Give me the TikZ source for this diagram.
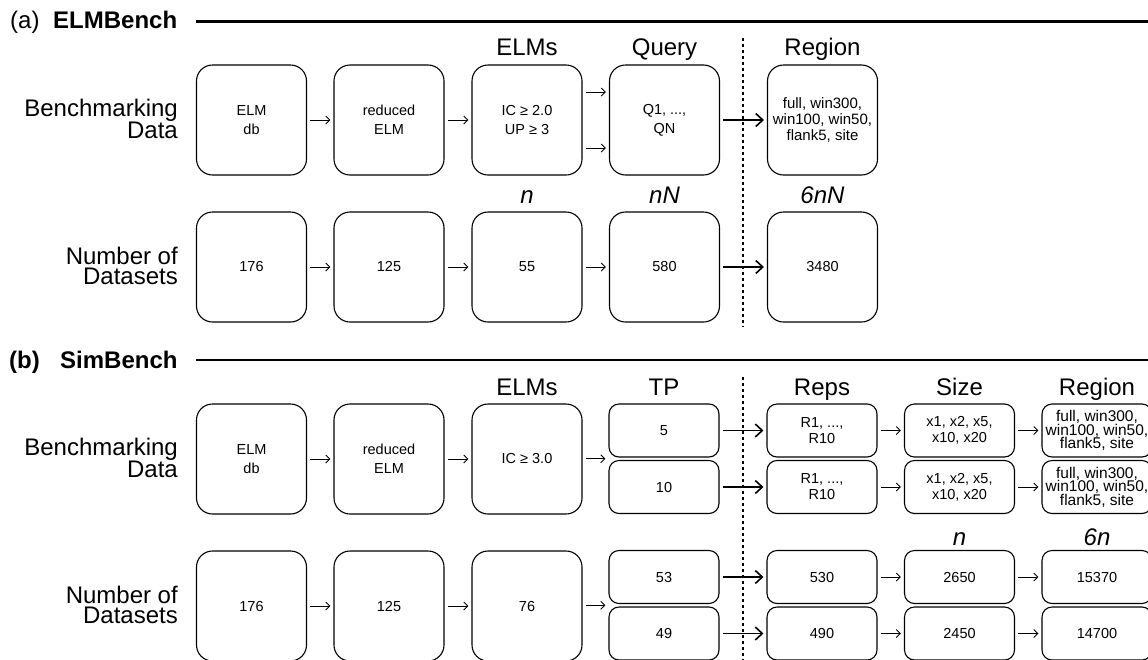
\documentclass[tikz,border=0pt]{standalone}
\usepackage{fontspec}
\setmainfont{Liberation Sans}
\usetikzlibrary{arrows.meta,calc}
\begin{document}
\begin{tikzpicture}[x=1pt,y=-1pt,
 box/.style={draw, line width=1.1pt, rounded corners=16pt, minimum width=110pt, minimum height=110pt, inner sep=0pt, align=center, font=\fontsize{14.5}{19}\selectfont},
 sbox/.style={draw, line width=1.1pt, rounded corners=10pt, minimum width=110pt, minimum height=53pt, inner sep=0pt, align=center, font=\fontsize{14.5}{16}\selectfont},
 regA/.style={font=\fontsize{15}{16}\selectfont},
 regB/.style={font=\fontsize{15.5}{13.5}\selectfont},
 hdr/.style={anchor=base, inner sep=0pt, font=\fontsize{24}{24}\selectfont},
 ilab/.style={anchor=base, inner sep=0pt, font=\fontsize{24}{24}\selectfont\itshape},
 rlab/.style={anchor=east, align=right, inner sep=0pt, font=\fontsize{24}{17}\selectfont},
 rlabn/.style={anchor=east, align=right, inner sep=0pt, font=\fontsize{24}{20}\selectfont},
 ttl/.style={anchor=base west, inner sep=0pt, font=\fontsize{24}{24}\selectfont},
 sarr/.style={-{Straight Barb[length=4pt,width=8pt]}, line width=1pt, shorten <=3pt, shorten >=3pt},
 larr/.style={-{Straight Barb[length=7pt,width=13pt]}, line width=1.6pt, shorten <=3pt, shorten >=3pt},
 sep/.style={line width=2.2pt},
 dots/.style={line width=1.8pt, dash pattern=on 3pt off 3pt}]
\useasboundingbox (0,0) rectangle (1148,659);

% ---------------- (a) ELMBench ----------------
\node[ttl] (ta) at (10,28) {(a)};
\node[ttl] (tan) at (53,28) {\bfseries ELMBench};
\coordinate (la1) at (196,21.5);
\coordinate (la2) at (1150,21.5);
\draw[sep] (la1) -- (la2);

\node[rlab] (ra1) at (178,119) {Benchmarking\\Data};
\node[rlabn] (ra2) at (178,266) {Number of\\Datasets};

\node[hdr] (ha3) at (527,55) {ELMs};
\node[hdr] (ha4) at (664.5,55) {Query};
\node[hdr] (ha5) at (822.5,55) {Region};

\node[box] (a1) at (251.5,120) {ELM\\db};
\node[box] (a2) at (389,120) {reduced\\ELM};
\node[box] (a3) at (527,120) {IC ≥ 2.0\\UP ≥ 3};
\node[box] (a4) at (664.5,120) {Q1, ...,\\QN};
\node[box,regA] (a5) at (822.5,120) {full, win300,\\win100, win50,\\flank5, site};

\node[ilab] (ia3) at (527,203) {n};
\node[ilab] (ia4) at (664.5,203) {nN};
\node[ilab] (ia5) at (822.5,203) {6nN};

\node[box] (an1) at (251.5,267) {176};
\node[box] (an2) at (389,267) {125};
\node[box] (an3) at (527,267) {55};
\node[box] (an4) at (664.5,267) {580};
\node[box] (an5) at (822.5,267) {3480};

\coordinate (da1) at (743,38);
\coordinate (da2) at (743,327);
\draw[dots] (da1) -- (da2);

\draw[sarr] (a1) -- (a2);
\draw[sarr] (a2) -- (a3);
\draw[sarr] ([yshift=28pt]a3.east) -- ([yshift=28pt]a4.west);
\draw[sarr] ([yshift=-28pt]a3.east) -- ([yshift=-28pt]a4.west);
\draw[larr] (a4) -- (a5);

\draw[sarr] (an1) -- (an2);
\draw[sarr] (an2) -- (an3);
\draw[sarr] (an3) -- (an4);
\draw[larr] (an4) -- (an5);

% ---------------- (b) SimBench ----------------
\node[ttl] (tb) at (9,368) {\bfseries (b)};
\node[ttl] (tbn) at (60,368) {\bfseries SimBench};
\coordinate (lb1) at (196,360);
\coordinate (lb2) at (1150,360);
\draw[sep] (lb1) -- (lb2);

\node[rlab] (rb1) at (178,458) {Benchmarking\\Data};
\node[rlabn] (rb2) at (178,605) {Number of\\Datasets};

\node[hdr] (hb3) at (527,395) {ELMs};
\node[hdr] (hb4) at (664,395) {TP};
\node[hdr] (hb5) at (822,395) {Reps};
\node[hdr] (hb6) at (959.5,395) {Size};
\node[hdr] (hb7) at (1097,395) {Region};

\node[box] (b1) at (251.5,459) {ELM\\db};
\node[box] (b2) at (389,459) {reduced\\ELM};
\node[box] (b3) at (527,459) {IC ≥ 3.0};

\node[sbox] (bt1) at (664,430.5) {5};
\node[sbox] (bt2) at (664,487) {10};
\node[sbox] (br1) at (822,430.5) {R1, ...,\\R10};
\node[sbox] (br2) at (822,487) {R1, ...,\\R10};
\node[sbox] (bs1) at (959.5,430.5) {x1, x2, x5,\\x10, x20};
\node[sbox] (bs2) at (959.5,487) {x1, x2, x5,\\x10, x20};
\node[sbox,regB] (bg1) at (1097,430.5) {full, win300,\\win100, win50,\\flank5, site};
\node[sbox,regB] (bg2) at (1097,487) {full, win300,\\win100, win50,\\flank5, site};

\node[ilab] (ib6) at (959.5,545) {n};
\node[ilab] (ib7) at (1097,545) {6n};

\node[box] (bn1) at (251.5,606) {176};
\node[box] (bn2) at (389,606) {125};
\node[box] (bn3) at (527,606) {76};
\node[sbox] (bnt1) at (664,577) {53};
\node[sbox] (bnt2) at (664,633.5) {49};
\node[sbox] (bnr1) at (822,577) {530};
\node[sbox] (bnr2) at (822,633.5) {490};
\node[sbox] (bns1) at (959.5,577) {2650};
\node[sbox] (bns2) at (959.5,633.5) {2450};
\node[sbox] (bng1) at (1097,577) {15370};
\node[sbox] (bng2) at (1097,633.5) {14700};

\coordinate (db1) at (743,377);
\coordinate (db2) at (743,662);
\draw[dots] (db1) -- (db2);

\coordinate (tpm) at ($(bt1.south west)!0.5!(bt2.north west)$);
\coordinate (tpn) at ($(bnt1.south west)!0.5!(bnt2.north west)$);

\draw[sarr] (b1) -- (b2);
\draw[sarr] (b2) -- (b3);
\draw[sarr] (b3.east |- tpm) -- (tpm);
\draw[larr] (bt1) -- (br1);
\draw[larr] (bt2) -- (br2);
\draw[sarr] (br1) -- (bs1);
\draw[sarr] (br2) -- (bs2);
\draw[sarr] (bs1) -- (bg1);
\draw[sarr] (bs2) -- (bg2);

\draw[sarr] (bn1) -- (bn2);
\draw[sarr] (bn2) -- (bn3);
\draw[sarr] (bn3.east |- tpn) -- (tpn);
\draw[larr] (bnt1) -- (bnr1);
\draw[larr] (bnt2) -- (bnr2);
\draw[sarr] (bnr1) -- (bns1);
\draw[sarr] (bnr2) -- (bns2);
\draw[sarr] (bns1) -- (bng1);
\draw[sarr] (bns2) -- (bng2);
\end{tikzpicture}
\end{document}
